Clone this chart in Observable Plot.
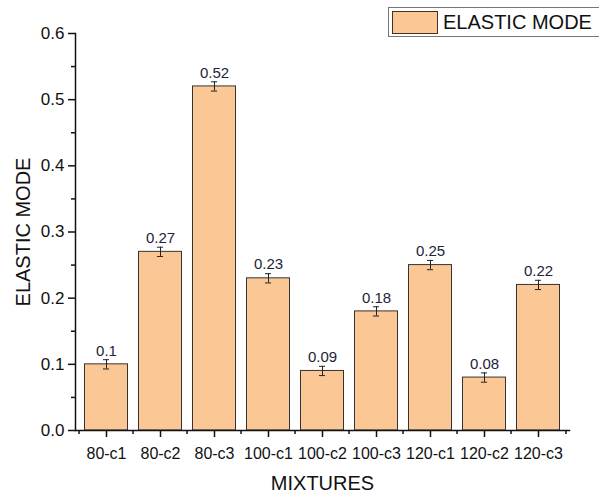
<!DOCTYPE html>
<html><head><meta charset="utf-8">
<script src="https://cdn.jsdelivr.net/npm/d3@7"></script>
<script src="https://cdn.jsdelivr.net/npm/@observablehq/plot@0.6"></script>
<style>
body{margin:0;background:#fff;font-family:"Liberation Sans",Arial,sans-serif;}
#wrap{position:relative;width:599px;height:494px;overflow:hidden;}
#legend{position:absolute;left:388px;top:7px;width:220px;height:28px;border:1px solid #777;background:#fff;}
#legend .sw{position:absolute;left:3px;top:3px;width:46px;height:23px;background:#FBC895;border:1px solid #4a3020;box-sizing:border-box;}
#legend .lb{position:absolute;left:54px;top:3px;font-size:20px;color:#111;line-height:23px;}
</style></head>
<body><div id="wrap"><div id="chart"></div>
<div id="legend"><div class="sw"></div><div class="lb">ELASTIC MODE</div></div></div>
<script>
const categories = ["80-c1","80-c2","80-c3","100-c1","100-c2","100-c3","120-c1","120-c2","120-c3"];
const values = [0.1,0.27,0.52,0.23,0.09,0.18,0.25,0.08,0.22];
const errors = [0.007,0.007,0.007,0.007,0.007,0.007,0.007,0.007,0.007];
const labels = ["0.1","0.27","0.52","0.23","0.09","0.18","0.25","0.08","0.22"];
const yTicks = [0,0.1,0.2,0.3,0.4,0.5,0.6];
const yMinor = [0.05,0.15,0.25,0.35,0.45,0.55];

const data = categories.map((c,i)=>({cat:c, v:values[i], e:errors[i], lab:labels[i]}));
const W=599, ML=75, MR=30;
const step=(W-ML-MR)/categories.length;

const chart = Plot.plot({
  width:W, height:494,
  marginLeft:ML, marginRight:MR, marginTop:33, marginBottom:64,
  style:{fontFamily:"Liberation Sans, Arial, sans-serif", background:"#fff", color:"#111"},
  x:{domain:categories, padding:0, label:null},
  y:{domain:[0,0.6], label:null},
  marks:[
    Plot.barY(data,{x:"cat", y:"v", fill:"#FBC895", stroke:"#333", strokeWidth:1, insetLeft:5.5, insetRight:5.5}),
    Plot.ruleX(data,{x:"cat", y1:d=>d.v-d.e, y2:d=>d.v+d.e, stroke:"#222"}),
    Plot.tickY(data,{x:"cat", y:d=>d.v-d.e, stroke:"#222", insetLeft:step/2-3.5, insetRight:step/2-3.5}),
    Plot.tickY(data,{x:"cat", y:d=>d.v+d.e, stroke:"#222", insetLeft:step/2-3.5, insetRight:step/2-3.5}),
    Plot.text(data,{x:"cat", y:d=>d.v+d.e, text:"lab", dy:-9, fontSize:15, fill:"#1c2438"}),
    Plot.axisY({ticks:yTicks, tickFormat:d=>d.toFixed(1), tickSize:7, tickPadding:4, fontSize:17, label:null, stroke:"#111", strokeWidth:1.5}),
    Plot.axisY({ticks:yMinor, tickSize:4, text:null, label:null, stroke:"#111", strokeWidth:1.5}),
    Plot.axisX({tickSize:7, tickPadding:10, fontSize:16, label:null, stroke:"#111", strokeWidth:1.5}),
    Plot.axisX({tickSize:4, text:null, label:null, dx:-step/2, stroke:"#111", strokeWidth:1.5}),
    Plot.axisX({ticks:[categories[categories.length-1]], tickSize:4, text:null, label:null, dx:step/2, stroke:"#111", strokeWidth:1.5}),
    Plot.frame({anchor:"left", stroke:"#111", strokeWidth:1.5}),
    Plot.frame({anchor:"bottom", stroke:"#111", strokeWidth:1.5}),
    Plot.text(["ELASTIC MODE"],{frameAnchor:"left", dx:-52, rotate:-90, textAnchor:"middle", lineAnchor:"middle", fontSize:20, fill:"#111"}),
    Plot.text(["MIXTURES"],{frameAnchor:"bottom", dy:53, lineAnchor:"middle", textAnchor:"middle", fontSize:20, fill:"#111"})
  ]
});
document.getElementById("chart").appendChild(chart);
</script></body></html>
